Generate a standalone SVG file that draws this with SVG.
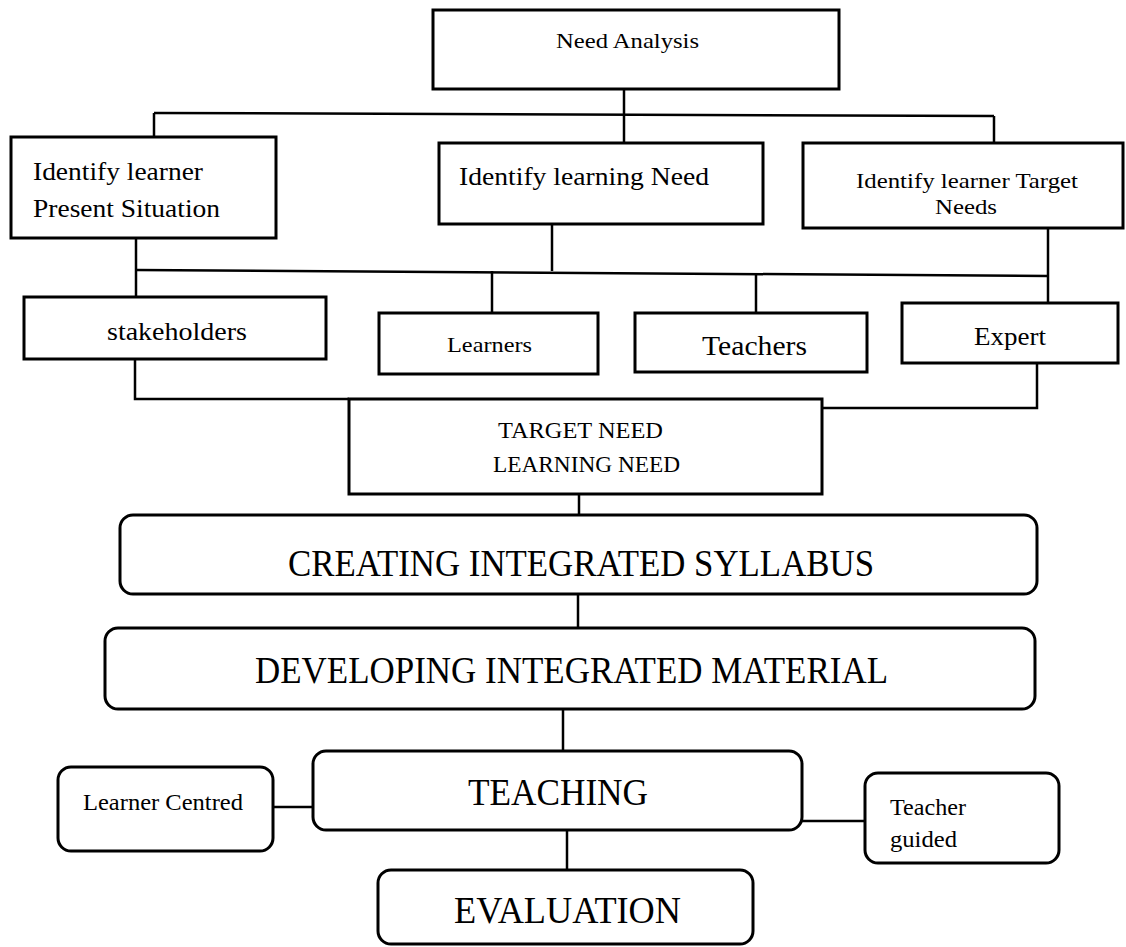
<svg xmlns="http://www.w3.org/2000/svg" width="1126" height="947" viewBox="0 0 1126 947">
<style>
  .box { fill: #ffffff; stroke: #000000; stroke-width: 3; }
  .conn { fill: none; stroke: #000000; stroke-width: 2.5; }
  text { font-family: "Liberation Serif", "Times New Roman", serif; fill: #000000; }
</style>
<rect width="1126" height="947" fill="#ffffff"/>
<g id="connectors">
  <path class="conn" d="M624,89 V114"/>
  <path class="conn" d="M154,113 L994,116"/>
  <path class="conn" d="M154,113 V137"/>
  <path class="conn" d="M624,114 V143"/>
  <path class="conn" d="M994,116 V143"/>
  <path class="conn" d="M136,238 V297"/>
  <path class="conn" d="M136,270 L1048,276"/>
  <path class="conn" d="M552,224 V271"/>
  <path class="conn" d="M492,271 V313"/>
  <path class="conn" d="M756,275 V313"/>
  <path class="conn" d="M1048,228 V303"/>
  <path class="conn" d="M135,359 V399 H349"/>
  <path class="conn" d="M1037,363 V408 H822"/>
  <path class="conn" d="M579,494 V516"/>
  <path class="conn" d="M578,594 V628"/>
  <path class="conn" d="M563,709 V751"/>
  <path class="conn" d="M567,830 V870"/>
  <path class="conn" d="M273,807 H313"/>
  <path class="conn" d="M802,821 H865"/>
</g>
<g id="need-analysis">
  <rect class="box" x="433" y="10" width="406" height="79"/>
  <text x="556" y="48" font-size="22" textLength="143" lengthAdjust="spacingAndGlyphs">Need Analysis</text>
</g>
<g id="present-situation">
  <rect class="box" x="11" y="137" width="265" height="101"/>
  <text x="33" y="180" font-size="26" textLength="170" lengthAdjust="spacingAndGlyphs">Identify learner</text>
  <text x="33" y="217" font-size="26" textLength="187" lengthAdjust="spacingAndGlyphs">Present Situation</text>
</g>
<g id="learning-need">
  <rect class="box" x="439" y="143" width="324" height="81"/>
  <text x="459" y="185" font-size="26" textLength="250" lengthAdjust="spacingAndGlyphs">Identify learning Need</text>
</g>
<g id="target-needs">
  <rect class="box" x="803" y="143" width="320" height="85"/>
  <text x="856" y="188" font-size="21" textLength="222" lengthAdjust="spacingAndGlyphs">Identify learner Target</text>
  <text x="935" y="214" font-size="21" textLength="62" lengthAdjust="spacingAndGlyphs">Needs</text>
</g>
<g id="stakeholders">
  <rect class="box" x="24" y="297" width="302" height="62"/>
  <text x="107" y="340" font-size="26" textLength="140" lengthAdjust="spacingAndGlyphs">stakeholders</text>
</g>
<g id="learners">
  <rect class="box" x="379" y="313" width="219" height="61"/>
  <text x="447" y="352" font-size="22" textLength="85" lengthAdjust="spacingAndGlyphs">Learners</text>
</g>
<g id="teachers">
  <rect class="box" x="635" y="313" width="232" height="59"/>
  <text x="702" y="355" font-size="28" textLength="105" lengthAdjust="spacingAndGlyphs">Teachers</text>
</g>
<g id="expert">
  <rect class="box" x="902" y="303" width="216" height="60"/>
  <text x="974" y="345" font-size="25" textLength="72" lengthAdjust="spacingAndGlyphs">Expert</text>
</g>
<g id="target-learning-need">
  <rect class="box" x="349" y="399" width="473" height="95"/>
  <text x="498" y="438" font-size="23" textLength="165" lengthAdjust="spacingAndGlyphs">TARGET NEED</text>
  <text x="493" y="472" font-size="23" textLength="187" lengthAdjust="spacingAndGlyphs">LEARNING NEED</text>
</g>
<g id="creating-syllabus">
  <rect class="box" x="120" y="515" width="917" height="79" rx="13" ry="13"/>
  <text x="288" y="576" font-size="37" textLength="586" lengthAdjust="spacingAndGlyphs">CREATING INTEGRATED SYLLABUS</text>
</g>
<g id="developing-material">
  <rect class="box" x="105" y="628" width="930" height="81" rx="13" ry="13"/>
  <text x="255" y="683" font-size="37" textLength="633" lengthAdjust="spacingAndGlyphs">DEVELOPING INTEGRATED MATERIAL</text>
</g>
<g id="teaching">
  <rect class="box" x="313" y="751" width="489" height="79" rx="13" ry="13"/>
  <text x="468" y="805" font-size="37" textLength="180" lengthAdjust="spacingAndGlyphs">TEACHING</text>
</g>
<g id="learner-centred">
  <rect class="box" x="58" y="767" width="215" height="84" rx="13" ry="13"/>
  <text x="83" y="810" font-size="23" textLength="160" lengthAdjust="spacingAndGlyphs">Learner Centred</text>
</g>
<g id="teacher-guided">
  <rect class="box" x="865" y="773" width="194" height="90" rx="13" ry="13"/>
  <text x="890" y="815" font-size="23" textLength="76" lengthAdjust="spacingAndGlyphs">Teacher</text>
  <text x="890" y="847" font-size="23" textLength="67" lengthAdjust="spacingAndGlyphs">guided</text>
</g>
<g id="evaluation">
  <rect class="box" x="378" y="870" width="375" height="74" rx="13" ry="13"/>
  <text x="454" y="923" font-size="37" textLength="227" lengthAdjust="spacingAndGlyphs">EVALUATION</text>
</g>
</svg>
